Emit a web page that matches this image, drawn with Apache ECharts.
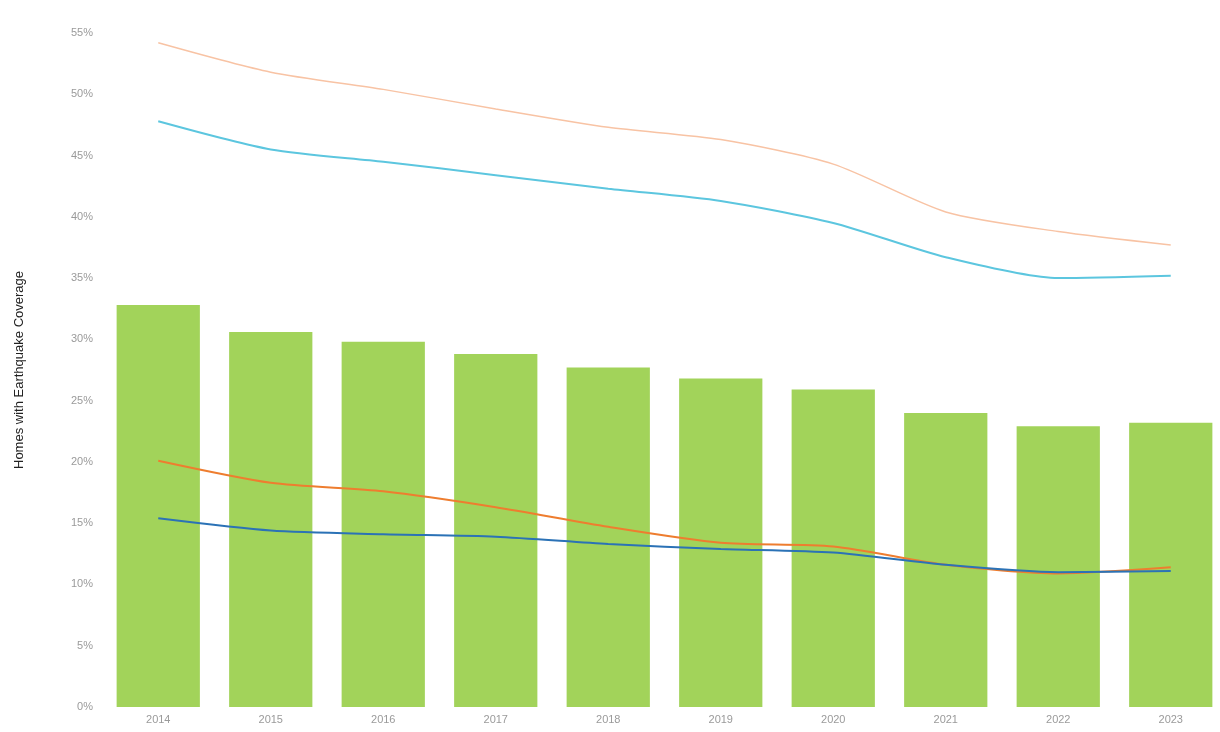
<!DOCTYPE html>
<html>
<head>
<meta charset="utf-8">
<script src="https://cdn.jsdelivr.net/npm/echarts@6/dist/echarts.min.js"></script>
<style>
html,body{margin:0;padding:0;background:#fff;overflow:hidden;width:1220px;height:732px;}
#chart{width:1232px;height:732px;}
</style>
</head>
<body>
<div id="chart"></div>
<script>
const years = ['2014','2015','2016','2017','2018','2019','2020','2021','2022','2023'];
const barValues = [32.8, 30.6, 29.8, 28.8, 27.7, 26.8, 25.9, 24.0, 22.9, 23.2];
const peachLine = [54.2, 51.8, 50.4, 48.8, 47.3, 46.3, 44.3, 40.4, 38.8, 37.7];
const cyanLine = [47.8, 45.5, 44.5, 43.4, 42.3, 41.3, 39.5, 36.7, 35.0, 35.2];
const orangeLine = [20.1, 18.3, 17.6, 16.3, 14.7, 13.4, 13.1, 11.6, 10.9, 11.4];
const blueLine = [15.4, 14.4, 14.1, 13.9, 13.3, 12.9, 12.6, 11.6, 11.0, 11.1];
const yTicks = { min: 0, max: 55, interval: 5 };

const chart = echarts.init(document.getElementById('chart'));
const lineSeries = (data, color, width) => ({
  type: 'line', data: data, smooth: 0.25, symbol: 'none',
  lineStyle: { color: color, width: width }, z: 3
});
chart.setOption({
  animation: false,
  grid: { left: 102, right: 5, top: 33, bottom: 25, containLabel: false },
  xAxis: {
    type: 'category', data: years,
    axisLine: { show: false }, axisTick: { show: false },
    axisLabel: { color: '#9a9a9a', fontSize: 11, fontFamily: 'Liberation Sans', margin: 7 }
  },
  yAxis: {
    type: 'value', min: yTicks.min, max: yTicks.max, interval: yTicks.interval,
    name: 'Homes with Earthquake Coverage', nameLocation: 'middle', nameGap: 76,
    nameTextStyle: { color: '#222', fontSize: 13, fontFamily: 'Liberation Sans' },
    axisLine: { show: false }, axisTick: { show: false }, splitLine: { show: false },
    axisLabel: { color: '#9a9a9a', fontSize: 11, fontFamily: 'Liberation Sans', margin: 9,
      formatter: v => v + '%' }
  },
  series: [
    { type: 'bar', data: barValues, barCategoryGap: '26%',
      itemStyle: { color: '#a2d35a' }, z: 1 },
    lineSeries(peachLine, '#f8c3a4', 1.5),
    lineSeries(cyanLine, '#5cc6df', 2),
    lineSeries(orangeLine, '#ee7d2f', 2),
    lineSeries(blueLine, '#2b72b6', 2)
  ]
});
</script>
</body>
</html>
